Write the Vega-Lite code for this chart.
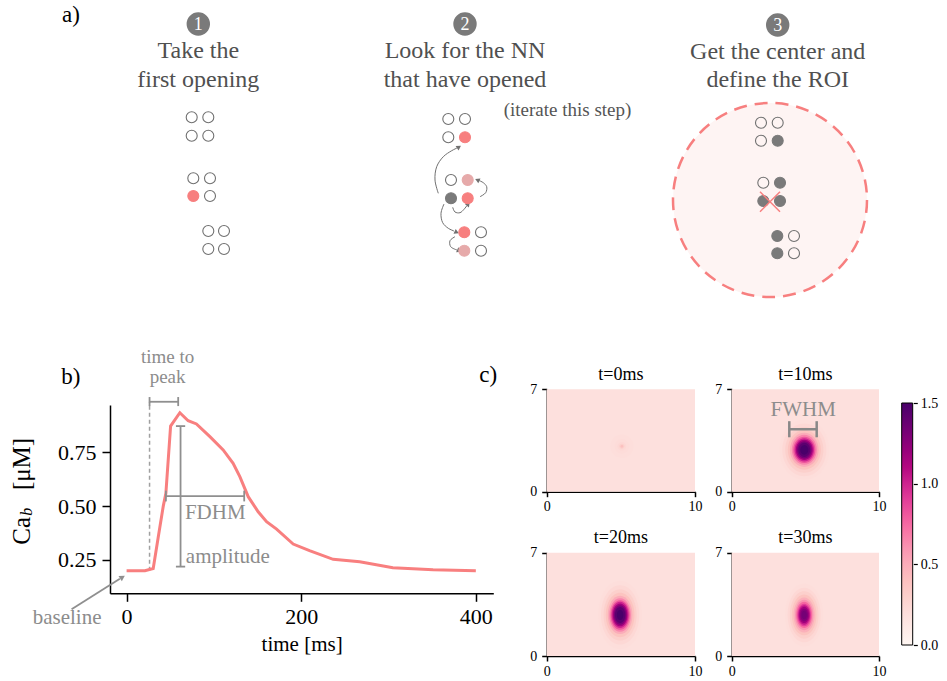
{
"$schema":"https://vega.github.io/schema/vega-lite/v6.json",
"width":947,"height":681,"autosize":{"type":"none"},"padding":0,"background":"white",
"config":{"view":{"stroke":null},"font":"Liberation Serif",
 "text":{"font":"Liberation Serif"},
 "axis":{"grid":false,"domainColor":"#000","tickColor":"#000","labelColor":"#000","titleColor":"#000","titleFontWeight":"normal","labelFont":"Liberation Serif","titleFont":"Liberation Serif","domainWidth":1.5,"tickWidth":1.5,"labelFlush":false,"labelOverlap":false},
 "legend":{"labelFont":"Liberation Serif"}},
"datasets":{
 "circles":[
  {"x":19.17,"y":11.73,"state":"closed"},{"x":20.83,"y":11.73,"state":"closed"},{"x":19.17,"y":13.57,"state":"closed"},{"x":20.83,"y":13.57,"state":"closed"},
  {"x":19.33,"y":17.83,"state":"closed"},{"x":21.0,"y":17.83,"state":"closed"},{"x":19.33,"y":19.6,"state":"open"},{"x":21.0,"y":19.6,"state":"closed"},
  {"x":20.83,"y":23.1,"state":"closed"},{"x":22.4,"y":23.1,"state":"closed"},{"x":20.83,"y":24.9,"state":"closed"},{"x":22.4,"y":24.9,"state":"closed"},
  {"x":44.83,"y":11.9,"state":"closed"},{"x":46.5,"y":11.9,"state":"closed"},{"x":44.83,"y":13.73,"state":"closed"},{"x":46.5,"y":13.73,"state":"open"},
  {"x":45.1,"y":18.0,"state":"closed"},{"x":46.77,"y":18.0,"state":"neighbor"},{"x":45.1,"y":19.83,"state":"done"},{"x":46.77,"y":19.83,"state":"open"},
  {"x":46.43,"y":23.23,"state":"open"},{"x":48.1,"y":23.23,"state":"closed"},{"x":46.43,"y":25.07,"state":"neighbor"},{"x":48.1,"y":25.07,"state":"closed"},
  {"x":76.1,"y":12.27,"state":"closed"},{"x":77.77,"y":12.27,"state":"closed"},{"x":76.1,"y":14.07,"state":"closed"},{"x":77.77,"y":14.07,"state":"done"},
  {"x":76.33,"y":18.27,"state":"closed"},{"x":78.0,"y":18.27,"state":"done"},{"x":76.33,"y":20.1,"state":"done"},{"x":78.0,"y":20.1,"state":"done"},
  {"x":77.73,"y":23.6,"state":"done"},{"x":79.4,"y":23.6,"state":"closed"},{"x":77.73,"y":25.33,"state":"done"},{"x":79.4,"y":25.33,"state":"closed"}
 ],
 "arrows":[
  {"id":"A","o":1,"x":43.83,"y":19.33},{"id":"A","o":2,"x":43.5,"y":18.0},{"id":"A","o":3,"x":43.67,"y":16.67},{"id":"A","o":4,"x":44.33,"y":15.67},{"id":"A","o":5,"x":45.17,"y":15.07},{"id":"A","o":6,"x":45.7,"y":14.8},
  {"id":"B","o":1,"x":48.0,"y":19.67},{"id":"B","o":2,"x":48.57,"y":19.27},{"id":"B","o":3,"x":48.67,"y":18.67},{"id":"B","o":4,"x":48.33,"y":18.27},{"id":"B","o":5,"x":47.9,"y":18.05},
  {"id":"C","o":1,"x":45.27,"y":20.73},{"id":"C","o":2,"x":45.5,"y":21.2},{"id":"C","o":3,"x":46.0,"y":21.27},{"id":"C","o":4,"x":46.4,"y":20.93},{"id":"C","o":5,"x":46.7,"y":20.55},
  {"id":"D","o":1,"x":44.4,"y":20.4},{"id":"D","o":2,"x":44.1,"y":21.33},{"id":"D","o":3,"x":44.27,"y":22.27},{"id":"D","o":4,"x":44.83,"y":22.83},{"id":"D","o":5,"x":45.4,"y":23.1},
  {"id":"E","o":1,"x":45.5,"y":23.67},{"id":"E","o":2,"x":45.0,"y":24.07},{"id":"E","o":3,"x":45.07,"y":24.67},{"id":"E","o":4,"x":45.7,"y":25.0}
 ],
 "heads":[
  {"x":45.9,"y":14.7,"dir":56},{"x":47.73,"y":18.0,"dir":294},{"x":46.83,"y":20.4,"dir":39},{"x":45.67,"y":23.23,"dir":115},{"x":45.93,"y":25.07,"dir":115}
 ],
 "curve":[
  {"t":0,"ca":0.2},{"t":21,"ca":0.2},{"t":30.5,"ca":0.21},{"t":36,"ca":0.35},{"t":42,"ca":0.5},{"t":45,"ca":0.56},{"t":50.4,"ca":0.872},{"t":61,"ca":0.934},{"t":70.5,"ca":0.897},{"t":80,"ca":0.882},{"t":95.4,"ca":0.823},{"t":110.6,"ca":0.761},{"t":122,"ca":0.699},{"t":129.7,"ca":0.637},{"t":139.3,"ca":0.544},{"t":150.7,"ca":0.474},{"t":160.3,"ca":0.428},{"t":171.8,"ca":0.393},{"t":190.8,"ca":0.324},{"t":209.5,"ca":0.293},{"t":236.6,"ca":0.253},{"t":267,"ca":0.242},{"t":305,"ca":0.214},{"t":351,"ca":0.204},{"t":400,"ca":0.2}
 ],
 "annot":[
  {"t":26.3,"t2":59.1,"ca":0.985,"ca2":0.985},{"t":26.3,"t2":26.3,"ca":0.965,"ca2":1.007},{"t":59.1,"t2":59.1,"ca":0.965,"ca2":1.007},
  {"t":61.8,"t2":61.8,"ca":0.872,"ca2":0.219},{"t":56.5,"t2":67.1,"ca":0.872,"ca2":0.872},{"t":56.5,"t2":67.1,"ca":0.219,"ca2":0.219},
  {"t":45,"t2":134.7,"ca":0.547,"ca2":0.547},{"t":45,"t2":45,"ca":0.522,"ca2":0.572},{"t":134.7,"t2":134.7,"ca":0.522,"ca2":0.572},
  {"t":-63,"t2":-7.7,"ca":0.021,"ca2":0.163}
 ],
 "blobs":[
  {"panel":"t0","x":5.07,"y":3.1,"w":1.6,"v":0.2},{"panel":"t0","x":5.07,"y":3.1,"w":1.0,"v":0.215},{"panel":"t0","x":5.07,"y":3.1,"w":0.6,"v":0.24},{"panel":"t0","x":5.07,"y":3.1,"w":0.35,"v":0.3},{"panel":"t0","x":5.07,"y":3.1,"w":0.2,"v":0.4},
  {"panel":"t10","x":4.93,"y":2.86,"w":3.4,"v":0.2},{"panel":"t10","x":4.93,"y":2.86,"w":3.0,"v":0.24},{"panel":"t10","x":4.93,"y":2.86,"w":2.6,"v":0.3},{"panel":"t10","x":4.93,"y":2.86,"w":2.25,"v":0.38},{"panel":"t10","x":4.93,"y":2.86,"w":1.95,"v":0.5},{"panel":"t10","x":4.93,"y":2.86,"w":1.7,"v":0.65},{"panel":"t10","x":4.93,"y":2.86,"w":1.5,"v":0.82},{"panel":"t10","x":4.93,"y":2.86,"w":1.32,"v":1.0},{"panel":"t10","x":4.93,"y":2.86,"w":1.15,"v":1.17},{"panel":"t10","x":4.93,"y":2.86,"w":0.98,"v":1.32},{"panel":"t10","x":4.93,"y":2.86,"w":0.8,"v":1.43},{"panel":"t10","x":4.93,"y":2.86,"w":0.55,"v":1.5},
  {"panel":"t20","x":4.95,"y":2.78,"w":3.0,"v":0.2},{"panel":"t20","x":4.95,"y":2.78,"w":2.6,"v":0.24},{"panel":"t20","x":4.95,"y":2.78,"w":2.25,"v":0.3},{"panel":"t20","x":4.95,"y":2.78,"w":1.95,"v":0.38},{"panel":"t20","x":4.95,"y":2.78,"w":1.68,"v":0.5},{"panel":"t20","x":4.95,"y":2.78,"w":1.47,"v":0.65},{"panel":"t20","x":4.95,"y":2.78,"w":1.3,"v":0.82},{"panel":"t20","x":4.95,"y":2.78,"w":1.15,"v":1.0},{"panel":"t20","x":4.95,"y":2.78,"w":1.0,"v":1.17},{"panel":"t20","x":4.95,"y":2.78,"w":0.85,"v":1.32},{"panel":"t20","x":4.95,"y":2.78,"w":0.7,"v":1.43},{"panel":"t20","x":4.95,"y":2.78,"w":0.45,"v":1.5},
  {"panel":"t30","x":4.92,"y":2.78,"w":2.6,"v":0.2},{"panel":"t30","x":4.92,"y":2.78,"w":2.25,"v":0.24},{"panel":"t30","x":4.92,"y":2.78,"w":1.95,"v":0.3},{"panel":"t30","x":4.92,"y":2.78,"w":1.68,"v":0.38},{"panel":"t30","x":4.92,"y":2.78,"w":1.45,"v":0.48},{"panel":"t30","x":4.92,"y":2.78,"w":1.25,"v":0.6},{"panel":"t30","x":4.92,"y":2.78,"w":1.08,"v":0.75},{"panel":"t30","x":4.92,"y":2.78,"w":0.93,"v":0.9},{"panel":"t30","x":4.92,"y":2.78,"w":0.8,"v":1.05},{"panel":"t30","x":4.92,"y":2.78,"w":0.67,"v":1.18},{"panel":"t30","x":4.92,"y":2.78,"w":0.52,"v":1.28},{"panel":"t30","x":4.92,"y":2.78,"w":0.35,"v":1.33}
 ]
},
"resolve":{"scale":{"x":"independent","y":"independent"},"axis":{"x":"independent","y":"independent"}},
"layer":[
 {
  "encoding":{
   "x":{"field":"x","type":"quantitative","scale":{"domain":[0,94.7],"range":[0,947]},"axis":null},
   "y":{"field":"y","type":"quantitative","scale":{"domain":[0,30],"range":[0,300]},"axis":null}
  },
  "layer":[
   {"data":{"values":[{"x":77.0,"y":20.0}]},"mark":{"type":"point","shape":"circle","size":37636,"filled":true,"fill":"#fef4f3","stroke":"#f77f7f","strokeWidth":2.5,"strokeDash":[13,8],"opacity":1}},
   {"data":{"name":"arrows"},"mark":{"type":"line","interpolate":"catmull-rom","color":"#707070","strokeWidth":1},"encoding":{"detail":{"field":"id"},"order":{"field":"o","type":"quantitative"}}},
   {"data":{"name":"heads"},"mark":{"type":"point","shape":"triangle-up","size":28,"filled":true,"color":"#707070","opacity":1},"encoding":{"angle":{"field":"dir","type":"quantitative","scale":null}}},
   {"data":{"name":"circles"},"mark":{"type":"point","shape":"circle","size":121,"filled":true,"opacity":1,"strokeWidth":1.1},
    "encoding":{
     "fill":{"field":"state","type":"nominal","scale":{"domain":["closed","open","done","neighbor"],"range":["transparent","#f77f7f","#7a7a7a","#e6aaaa"]},"legend":null},
     "stroke":{"field":"state","type":"nominal","scale":{"domain":["closed","open","done","neighbor"],"range":["#707070","#f77f7f","#7a7a7a","#e6aaaa"]},"legend":null}}},
   {"data":{"values":[{"x":77.0,"y":20.17}]},"mark":{"type":"point","shape":"M-1,-1L1,1M-1,1L1,-1","size":400,"filled":false,"stroke":"#f77f7f","strokeWidth":1.5,"opacity":1}},
   {"data":{"values":[{"x":19.83,"y":2.4},{"x":46.5,"y":2.4},{"x":77.77,"y":2.5}]},"mark":{"type":"point","shape":"circle","size":548,"filled":true,"color":"#7a7a7a","opacity":1}},
   {"data":{"values":[{"x":19.83,"y":2.4,"label":"1"},{"x":46.5,"y":2.4,"label":"2"},{"x":77.77,"y":2.5,"label":"3"}]},"mark":{"type":"text","font":"Liberation Serif","fontSize":18,"color":"white","baseline":"middle","dy":1},"encoding":{"text":{"field":"label"}}},
   {"data":{"values":[{"x":19.83,"y":5.1,"label":"Take the"},{"x":19.83,"y":7.95,"label":"first opening"},{"x":46.5,"y":5.1,"label":"Look for the NN"},{"x":46.5,"y":7.95,"label":"that have opened"},{"x":77.77,"y":5.2,"label":"Get the center and"},{"x":77.77,"y":8.0,"label":"define the ROI"}]},"mark":{"type":"text","font":"Liberation Serif","fontSize":24,"color":"#505050","baseline":"middle"},"encoding":{"text":{"field":"label"}}},
   {"data":{"values":[{"x":56.75,"y":11.0,"label":"(iterate this step)"}]},"mark":{"type":"text","font":"Liberation Serif","fontSize":19,"color":"#555555","baseline":"middle"},"encoding":{"text":{"field":"label"}}},
   {"data":{"values":[{"x":7.1,"y":1.5,"label":"a)"}]},"mark":{"type":"text","font":"Liberation Serif","fontSize":23,"color":"#000","baseline":"middle"},"encoding":{"text":{"field":"label"}}}
  ]
 },
 {
  "encoding":{
   "x":{"field":"t","type":"quantitative","scale":{"domain":[-19,420],"range":[110,493.3]},"axis":{"orient":"bottom","offset":-87.7,"values":[0,200,400],"format":"d","labelFontSize":22,"tickSize":8,"labelPadding":5,"title":"time [ms]","titleFontSize":21,"titlePadding":6}},
   "y":{"field":"ca","type":"quantitative","scale":{"domain":[0.095,0.97],"range":[593.3,405]},"axis":{"orient":"left","offset":-110,"values":[0.25,0.5,0.75],"format":".2f","labelFontSize":22,"tickSize":8,"labelPadding":6,"title":null}}
  },
  "layer":[
   {"data":{"values":[{"t":26.3,"ca":0.2,"ca2":0.985}]},"mark":{"type":"rule","color":"#a0a0a0","strokeWidth":1.5,"strokeDash":[4,3]},"encoding":{"y2":{"field":"ca2"}}},
   {"data":{"name":"curve"},"mark":{"type":"line","color":"#f87f7f","strokeWidth":3}},
   {"data":{"name":"annot"},"mark":{"type":"rule","color":"#8f8f8f","strokeWidth":1.8},"encoding":{"x2":{"field":"t2"},"y2":{"field":"ca2"}}},
   {"data":{"values":[{"t":-4.7,"ca":0.17,"dir":58}]},"mark":{"type":"point","shape":"triangle-up","size":40,"filled":true,"color":"#8f8f8f","opacity":1},"encoding":{"angle":{"field":"dir","type":"quantitative","scale":null}}},
   {"data":{"values":[{"t":47,"ca":1.192,"label":"time to"},{"t":47,"ca":1.099,"label":"peak"}]},"mark":{"type":"text","font":"Liberation Serif","fontSize":19,"color":"#8c8c8c","baseline":"middle"},"encoding":{"text":{"field":"label"}}},
   {"data":{"values":[{"t":-68.1,"ca":-0.019,"label":"baseline"}]},"mark":{"type":"text","font":"Liberation Serif","fontSize":21,"color":"#8c8c8c","baseline":"middle"},"encoding":{"text":{"field":"label"}}},
   {"data":{"values":[{"t":66.8,"ca":0.47,"label":"FDHM"},{"t":67.9,"ca":0.265,"label":"amplitude"}]},"mark":{"type":"text","font":"Liberation Serif","fontSize":21,"color":"#8c8c8c","baseline":"middle","align":"left"},"encoding":{"text":{"field":"label"}}},
   {"data":{"values":[{"t":-63.8,"ca":1.1,"label":"b)"}]},"mark":{"type":"text","font":"Liberation Serif","fontSize":23,"color":"#000","baseline":"middle"},"encoding":{"text":{"field":"label"}}},
   {"data":{"values":[{"t":-119.9,"ca":0.385,"label":"Ca"},{"t":-119.9,"ca":0.696,"label":"[μM]"}]},"mark":{"type":"text","font":"Liberation Serif","fontSize":25,"color":"#000","baseline":"middle","angle":270},"encoding":{"text":{"field":"label"}}},
   {"data":{"values":[{"t":-114.5,"ca":0.474,"label":"b"}]},"mark":{"type":"text","font":"Liberation Serif","fontSize":16,"fontStyle":"italic","color":"#000","baseline":"middle","angle":270},"encoding":{"text":{"field":"label"}}}
  ]
 },
 {
  "encoding":{
   "x":{"field":"x","type":"quantitative","scale":{"domain":[0,10],"range":[546.7,695]},"axis":{"orient":"bottom","offset":-189.3,"values":[0,10],"labelFontSize":14,"tickSize":5,"labelPadding":3,"title":null}},
   "y":{"field":"y","type":"quantitative","scale":{"domain":[0,7],"range":[491.7,389.3]},"axis":{"orient":"left","offset":-546.7,"values":[0,7],"labelFontSize":14,"tickSize":5,"labelPadding":5,"title":null}}
  },
  "layer":[
   {"data":{"values":[{"x":0,"x2":10,"y":0,"y2":7,"v":0.19}]},"mark":{"type":"rect"},"encoding":{"x2":{"field":"x2"},"y2":{"field":"y2"},"color":{"field":"v","type":"quantitative","scale":{"domain":[0,0.1875,0.375,0.5625,0.75,0.9375,1.125,1.3125,1.5],"range":["#fff7f3","#fde0dd","#fcc5c0","#fa9fb5","#f768a1","#dd3497","#ae017e","#7a0177","#49006a"],"interpolate":"rgb","clamp":true},"legend":{"orient":"none","legendX":901.7,"legendY":403,"direction":"vertical","gradientLength":242,"gradientThickness":11,"title":null,"values":[0,1.5],"labelExpr":"''","labelOpacity":0,"labelFontSize":1,"gradientStrokeColor":"#000","gradientStrokeWidth":1,"padding":0}}}},
   {"data":{"name":"blobs"},"transform":[{"filter":"datum.panel==='t0'"}],"mark":{"type":"point","shape":"M-1,0A1,1 0 1,1 1,0A1,1 0 1,1 -1,0Z","filled":true,"opacity":1,"strokeWidth":0},"encoding":{"size":{"field":"w","type":"quantitative","scale":{"type":"pow","exponent":2,"domain":[0,4],"range":[0,3460]},"legend":null},"color":{"field":"v","type":"quantitative"},"order":{"field":"w","sort":"descending"}}},
   {"data":{"values":[{"x":5,"y":7.98,"label":"t=0ms"}]},"mark":{"type":"text","font":"Liberation Serif","fontSize":18,"color":"#000","baseline":"middle"},"encoding":{"text":{"field":"label"}}},
   {"data":{"values":[{"x":-3.95,"y":7.98,"label":"c)"}]},"mark":{"type":"text","font":"Liberation Serif","fontSize":23,"color":"#000","baseline":"middle"},"encoding":{"text":{"field":"label"}}}
  ]
 },
 {
  "encoding":{
   "x":{"field":"x","type":"quantitative","scale":{"domain":[0,10],"range":[731.7,879]},"axis":{"orient":"bottom","offset":-189.3,"values":[0,10],"labelFontSize":14,"tickSize":5,"labelPadding":3,"title":null}},
   "y":{"field":"y","type":"quantitative","scale":{"domain":[0,7],"range":[491.7,389.3]},"axis":{"orient":"left","offset":-731.7,"values":[0,7],"labelFontSize":14,"tickSize":5,"labelPadding":5,"title":null}}
  },
  "layer":[
   {"data":{"values":[{"x":0,"x2":10,"y":0,"y2":7,"v":0.19}]},"mark":{"type":"rect"},"encoding":{"x2":{"field":"x2"},"y2":{"field":"y2"},"color":{"field":"v","type":"quantitative"}}},
   {"data":{"name":"blobs"},"transform":[{"filter":"datum.panel==='t10'"}],"mark":{"type":"point","shape":"M-1,0A1,1.2 0 1,1 1,0A1,1.2 0 1,1 -1,0Z","filled":true,"opacity":1,"strokeWidth":0},"encoding":{"size":{"field":"w","type":"quantitative","scale":{"type":"pow","exponent":2,"domain":[0,4],"range":[0,3460]},"legend":null},"color":{"field":"v","type":"quantitative"},"order":{"field":"w","sort":"descending"}}},
   {"data":{"values":[{"x":3.91,"x2":5.77,"y":4.27,"y2":4.27},{"x":3.91,"x2":3.91,"y":3.72,"y2":4.82},{"x":5.77,"x2":5.77,"y":3.72,"y2":4.82}]},"mark":{"type":"rule","color":"#888888","strokeWidth":2.5},"encoding":{"x2":{"field":"x2"},"y2":{"field":"y2"}}},
   {"data":{"values":[{"x":4.86,"y":5.58,"label":"FWHM"}]},"mark":{"type":"text","font":"Liberation Serif","fontSize":21,"color":"#8c8c8c","baseline":"middle"},"encoding":{"text":{"field":"label"}}},
   {"data":{"values":[{"x":5,"y":7.98,"label":"t=10ms"}]},"mark":{"type":"text","font":"Liberation Serif","fontSize":18,"color":"#000","baseline":"middle"},"encoding":{"text":{"field":"label"}}}
  ]
 },
 {
  "encoding":{
   "x":{"field":"x","type":"quantitative","scale":{"domain":[0,10],"range":[546.7,695]},"axis":{"orient":"bottom","offset":-25,"values":[0,10],"labelFontSize":14,"tickSize":5,"labelPadding":3,"title":null}},
   "y":{"field":"y","type":"quantitative","scale":{"domain":[0,7],"range":[656,552.7]},"axis":{"orient":"left","offset":-546.7,"values":[0,7],"labelFontSize":14,"tickSize":5,"labelPadding":5,"title":null}}
  },
  "layer":[
   {"data":{"values":[{"x":0,"x2":10,"y":0,"y2":7,"v":0.19}]},"mark":{"type":"rect"},"encoding":{"x2":{"field":"x2"},"y2":{"field":"y2"},"color":{"field":"v","type":"quantitative"}}},
   {"data":{"name":"blobs"},"transform":[{"filter":"datum.panel==='t20'"}],"mark":{"type":"point","shape":"M-1,0A1,1.55 0 1,1 1,0A1,1.55 0 1,1 -1,0Z","filled":true,"opacity":1,"strokeWidth":0},"encoding":{"size":{"field":"w","type":"quantitative","scale":{"type":"pow","exponent":2,"domain":[0,4],"range":[0,3460]},"legend":null},"color":{"field":"v","type":"quantitative"},"order":{"field":"w","sort":"descending"}}},
   {"data":{"values":[{"x":5,"y":7.97,"label":"t=20ms"}]},"mark":{"type":"text","font":"Liberation Serif","fontSize":18,"color":"#000","baseline":"middle"},"encoding":{"text":{"field":"label"}}}
  ]
 },
 {
  "encoding":{
   "x":{"field":"x","type":"quantitative","scale":{"domain":[0,10],"range":[731.7,879]},"axis":{"orient":"bottom","offset":-25,"values":[0,10],"labelFontSize":14,"tickSize":5,"labelPadding":3,"title":null}},
   "y":{"field":"y","type":"quantitative","scale":{"domain":[0,7],"range":[656,552.7]},"axis":{"orient":"left","offset":-731.7,"values":[0,7],"labelFontSize":14,"tickSize":5,"labelPadding":5,"title":null}}
  },
  "layer":[
   {"data":{"values":[{"x":0,"x2":10,"y":0,"y2":7,"v":0.19}]},"mark":{"type":"rect"},"encoding":{"x2":{"field":"x2"},"y2":{"field":"y2"},"color":{"field":"v","type":"quantitative"}}},
   {"data":{"name":"blobs"},"transform":[{"filter":"datum.panel==='t30'"}],"mark":{"type":"point","shape":"M-1,0A1,1.65 0 1,1 1,0A1,1.65 0 1,1 -1,0Z","filled":true,"opacity":1,"strokeWidth":0},"encoding":{"size":{"field":"w","type":"quantitative","scale":{"type":"pow","exponent":2,"domain":[0,4],"range":[0,3460]},"legend":null},"color":{"field":"v","type":"quantitative"},"order":{"field":"w","sort":"descending"}}},
   {"data":{"values":[{"x":5,"y":7.97,"label":"t=30ms"}]},"mark":{"type":"text","font":"Liberation Serif","fontSize":18,"color":"#000","baseline":"middle"},"encoding":{"text":{"field":"label"}}}
  ]
 },
 {
  "data":{"values":[{"v":0},{"v":1.5}]},
  "mark":{"type":"point","opacity":0},
  "encoding":{"y":{"field":"v","type":"quantitative","scale":{"domain":[0,1.5],"range":[645,403]},"axis":{"orient":"right","offset":-33.7,"values":[0,0.5,1,1.5],"format":".1f","labelFontSize":14,"tickSize":4,"tickWidth":1.2,"labelPadding":3,"domain":false,"title":null}}}
 }
]
}
